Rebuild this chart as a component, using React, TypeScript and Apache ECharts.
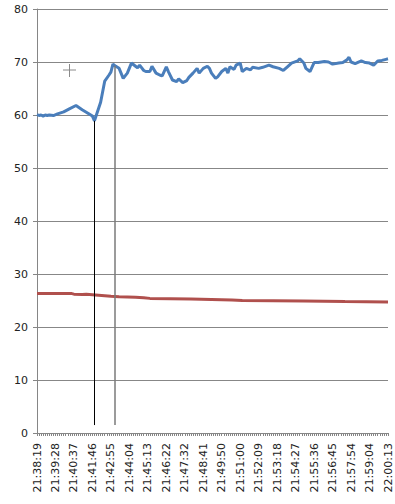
import React, { useEffect, useRef } from "react";
import * as echarts from "echarts";

// Tick labels shown every 9th sample on the category axis
const tickLabels = [
  "21:38:19", "21:39:28", "21:40:37", "21:41:46", "21:42:55", "21:44:04",
  "21:45:13", "21:46:22", "21:47:32", "21:48:41", "21:49:50", "21:51:00",
  "21:52:09", "21:53:18", "21:54:27", "21:55:36", "21:56:45", "21:57:54",
  "21:59:04", "22:00:13",
];
const samplesPerLabel = 9;
const sampleCount = (tickLabels.length - 1) * samplesPerLabel + 1;

// [sample index, value]
const blueSeries: [number, number][] = [
  [0, 60.1], [1, 59.9], [2, 60.0], [3, 59.8], [4, 60.0], [5, 59.9], [6, 60.0],
  [8, 59.9], [10, 60.2], [13, 60.6], [16, 61.2], [19, 61.8], [22, 61.0],
  [25, 60.3], [27, 59.8], [28, 58.9], [31, 62.4], [33, 66.4], [35, 67.5],
  [36, 68.1], [37, 69.6], [38, 69.3], [40, 68.8], [42, 66.9], [44, 67.9],
  [46, 69.8], [48, 69.2], [49, 68.9], [50, 69.4], [52, 68.4], [53, 68.2],
  [55, 68.2], [56, 69.2], [58, 67.9], [60, 67.5], [61, 67.4], [63, 69.1],
  [64, 68.2], [66, 66.6], [68, 66.3], [69, 66.8], [71, 66.1], [73, 66.5],
  [74, 67.1], [76, 67.9], [78, 68.8], [79, 67.9], [81, 68.8], [83, 69.2],
  [84, 68.8], [85, 67.9], [87, 66.9], [88, 67.2], [90, 68.2], [92, 68.8],
  [93, 67.9], [94, 69.1], [96, 68.6], [97, 69.4], [99, 69.8], [100, 68.2],
  [102, 68.8], [104, 68.5], [105, 69.0], [108, 68.8], [110, 69.0], [113, 69.4],
  [115, 69.1], [118, 68.8], [120, 68.4], [122, 69.1], [124, 69.8], [127, 70.2],
  [128, 70.6], [130, 69.8], [131, 68.8], [133, 68.2], [135, 69.9], [137, 69.9],
  [140, 70.1], [142, 70.0], [144, 69.6], [147, 69.8], [149, 69.9], [151, 70.4],
  [152, 70.9], [153, 70.0], [155, 69.7], [158, 70.2], [160, 69.9], [162, 69.8],
  [164, 69.4], [166, 70.2], [168, 70.3], [170, 70.5], [171, 70.6],
];

const redSeries: [number, number][] = [
  [0, 26.3], [17, 26.3], [18, 26.2], [22, 26.15], [24, 26.2], [27, 26.1],
  [30, 26.0], [36, 25.8], [40, 25.7], [48, 25.6], [52, 25.5], [55, 25.4],
  [75, 25.3], [95, 25.1], [100, 25.0], [130, 24.9], [150, 24.8], [171, 24.7],
];

// Vertical annotation lines: [sample index, top value, bottom value]
const blackMarker: [number, number, number] = [28, 58.9, 1.5];
const grayMarker: [number, number, number] = [38, 69.3, 1.5];

const yTicks = { min: 0, max: 80, interval: 10 };

const categories = Array.from({ length: sampleCount }, (_, i) =>
  i % samplesPerLabel === 0 ? tickLabels[i / samplesPerLabel] : ""
);

export default function App() {
  const ref = useRef<HTMLDivElement>(null);
  useEffect(() => {
    if (!ref.current) return;
    const chart = echarts.init(ref.current, null, { renderer: "svg" });
    const font = "DejaVu Sans";
    chart.setOption({
      animation: false,
      backgroundColor: "#ffffff",
      grid: { left: 37, right: 7, top: 9, bottom: 71, containLabel: false },
      xAxis: {
        type: "category",
        data: categories,
        boundaryGap: false,
        axisLine: { lineStyle: { color: "#868686", width: 1 } },
        axisTick: { show: true, interval: 0, length: 3, lineStyle: { color: "#868686" } },
        axisLabel: {
          interval: samplesPerLabel - 1,
          rotate: 90,
          margin: 10,
          color: "#222",
          fontFamily: font,
          fontSize: 11,
        },
        splitLine: { show: false },
      },
      yAxis: {
        type: "value",
        min: yTicks.min,
        max: yTicks.max,
        interval: yTicks.interval,
        axisLine: { show: true, lineStyle: { color: "#868686", width: 1 } },
        axisTick: { show: true, length: 4, lineStyle: { color: "#868686" } },
        axisLabel: { color: "#222", fontFamily: font, fontSize: 11, margin: 9 },
        splitLine: { show: true, lineStyle: { color: "#878787", width: 1 } },
      },
      series: [
        {
          type: "line",
          data: redSeries,
          showSymbol: false,
          symbol: "none",
          lineStyle: { color: "#b0504d", width: 3 },
          z: 3,
        },
        {
          type: "line",
          data: blueSeries,
          showSymbol: false,
          symbol: "none",
          lineStyle: { color: "#4a7ebb", width: 3 },
          z: 4,
          markLine: {
            silent: true,
            symbol: "none",
            label: { show: false },
            data: [
              [
                { coord: [blackMarker[0], blackMarker[1]], lineStyle: { color: "#000000", width: 1, type: "solid" } },
                { coord: [blackMarker[0], blackMarker[2]] },
              ],
              [
                { coord: [grayMarker[0], grayMarker[1]], lineStyle: { color: "#7a7a7a", width: 1.5, type: "solid" } },
                { coord: [grayMarker[0], grayMarker[2]] },
              ],
            ],
          },
        },
      ],
      graphic: [
        { type: "line", shape: { x1: 63, y1: 70, x2: 76, y2: 70 }, style: { stroke: "#8a8a8a", lineWidth: 1 } },
        { type: "line", shape: { x1: 69.5, y1: 64, x2: 69.5, y2: 77 }, style: { stroke: "#8a8a8a", lineWidth: 1 } },
      ],
    });
    return () => chart.dispose();
  }, []);
  return (
    <div
      ref={ref}
      style={{ position: "fixed", left: 0, top: 0, width: 395, height: 504, background: "#fff" }}
    />
  );
}
